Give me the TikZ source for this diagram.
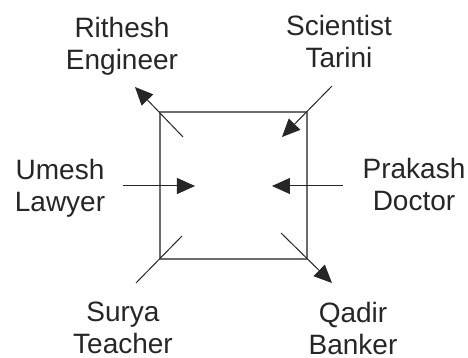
\documentclass[tikz,border=0pt]{standalone}
\usepackage{fontspec}
\setmainfont{Liberation Sans}
\usetikzlibrary{arrows.meta, positioning}
\tikzset{
    person/.style={align=center, text=black!85, inner sep=0pt,
        font=\fontsize{14}{16}\selectfont},
    pointer/.style={draw=black!85, line width=0.5pt,
        -{Triangle[length=9pt, width=8pt]}},
    plainline/.style={draw=black!85, line width=0.5pt}
}

\begin{document}
\begin{tikzpicture}[x=0.5pt, y=-0.5pt]
    \useasboundingbox (0,0) rectangle (468,358);

    % Seating square
    \draw[gray!85!black, line width=1pt] (160,112) rectangle (307,259);

    % Names and professions
    \node[person] (rithesh) at (122,46)  {Rithesh\\Engineer};
    \node[person] (tarini)  at (339,41)  {Scientist\\Tarini};
    \node[person] (umesh)   at (60,188)  {Umesh\\Lawyer};
    \node[person] (prakash) at (414,184) {Prakash\\Doctor};
    \node[person] (surya)   at (123,328) {Surya\\Teacher};
    \node[person] (qadir)   at (353,328) {Qadir\\Banker};

    % End points of the facing lines
    \coordinate (rit-a) at (183,137); \coordinate (rit-b) at (135,87);
    \coordinate (tar-a) at (332,86);  \coordinate (tar-b) at (282,137);
    \coordinate (ume-a) at (123,186); \coordinate (ume-b) at (195,186);
    \coordinate (pra-a) at (343,186); \coordinate (pra-b) at (272,186);
    \coordinate (sur-a) at (182,236); \coordinate (sur-b) at (136,283);
    \coordinate (qad-a) at (281,233); \coordinate (qad-b) at (332,283);

    % Facing directions
    \draw[pointer]   (rit-a) -- (rit-b);
    \draw[pointer]   (tar-a) -- (tar-b);
    \draw[pointer]   (ume-a) -- (ume-b);
    \draw[pointer]   (pra-a) -- (pra-b);
    \draw[plainline] (sur-a) -- (sur-b);
    \draw[pointer]   (qad-a) -- (qad-b);
\end{tikzpicture}
\end{document}
